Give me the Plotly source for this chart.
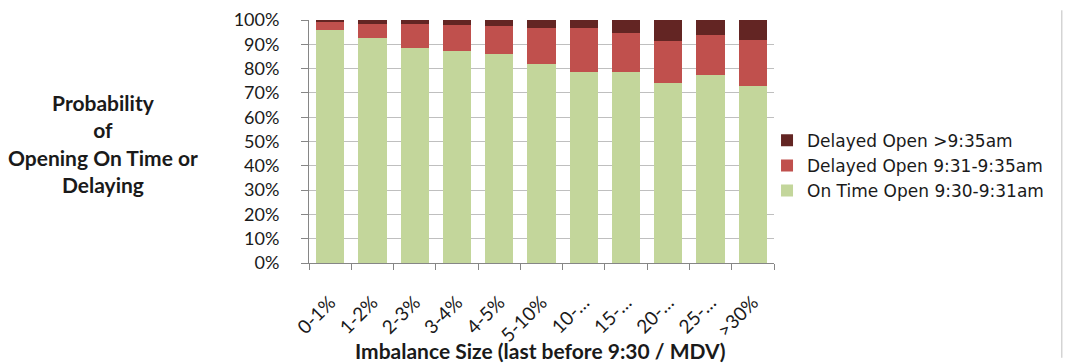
import plotly.graph_objects as go

categories = ["0-1%", "1-2%", "2-3%", "3-4%", "4-5%", "5-10%", "10-…", "15-…", "20-…", "25-…", ">30%"]
on_time = [95.8, 92.6, 88.4, 87.3, 85.9, 81.7, 78.7, 78.7, 74.2, 77.5, 72.7]
delayed_31_35 = [3.6, 5.8, 10.1, 10.7, 11.6, 15.2, 18.0, 16.0, 17.3, 16.5, 19.2]
delayed_35 = [round(100 - a - b, 1) for a, b in zip(on_time, delayed_31_35)]
y_ticks = [0, 10, 20, 30, 40, 50, 60, 70, 80, 90, 100]

FONT = "Lato, 'Open Sans', sans-serif"
TXT = "#1a1a1a"

# page body has an 8px default margin; compensate so the plot lands where the reference has it
W, H = 1065, 356
L, T, PW, PH = 301, 12, 465, 243

fig = go.Figure()
fig.add_trace(go.Bar(x=categories, y=on_time, name="On Time Open 9:30-9:31am",
                     marker=dict(color="#C3D69B", line=dict(width=0))))
fig.add_trace(go.Bar(x=categories, y=delayed_31_35, name="Delayed Open 9:31-9:35am",
                     marker=dict(color="#C0504D", line=dict(width=0))))
fig.add_trace(go.Bar(x=categories, y=delayed_35, name="Delayed Open >9:35am",
                     marker=dict(color="#632523", line=dict(width=0))))

fig.update_layout(
    barmode="stack",
    bargap=0.33,
    width=W, height=H,
    margin=dict(l=L, r=W - L - PW, t=T, b=H - T - PH, autoexpand=False),
    plot_bgcolor="white", paper_bgcolor="white",
    font=dict(family=FONT, size=19, color=TXT),
    showlegend=True,
    legend=dict(traceorder="reversed", x=0.985, xanchor="left", y=0.40, yanchor="middle",
                font=dict(size=17, color=TXT, family="'DejaVu Sans', sans-serif"),
                itemwidth=30, tracegroupgap=0),
    xaxis=dict(
        type="category", tickangle=-45, tickson="boundaries", automargin=False,
        showline=True, linecolor="#868686", linewidth=1,
        ticks="outside", ticklen=6, tickcolor="#868686", ticklabelstandoff=20,
        tickfont=dict(size=19), showgrid=False, ticklabeloverflow="allow",
    ),
    yaxis=dict(
        range=[0, 100], tickvals=y_ticks, ticktext=[f"{v}%" for v in y_ticks],
        showline=True, linecolor="#868686", linewidth=1, automargin=False,
        ticks="outside", ticklen=7, tickcolor="#868686", ticklabelstandoff=18,
        showgrid=True, gridcolor="#BFBFBF", gridwidth=1, ticklabeloverflow="allow",
        tickfont=dict(size=18), zeroline=False,
    ),
    annotations=[
        dict(text="<b>Probability<br>of<br>Opening On Time or<br>Delaying</b>",
             xref="paper", yref="paper", x=-0.443, y=0.49, xanchor="center", yanchor="middle",
             showarrow=False, align="center", font=dict(size=21, color=TXT)),
        dict(text="<b>Imbalance Size (last before 9:30 / MDV)</b>",
             xref="paper", yref="paper", x=0.497, y=-0.362, xanchor="center", yanchor="middle",
             showarrow=False, font=dict(size=21, color=TXT)),
    ],
    shapes=[dict(type="line", xref="paper", yref="paper", x0=1.619, x1=1.619, y0=1.04, y1=-0.39,
                 layer="above", line=dict(color="#BFBFBF", width=1))],
)

fig.write_html("out.html")
